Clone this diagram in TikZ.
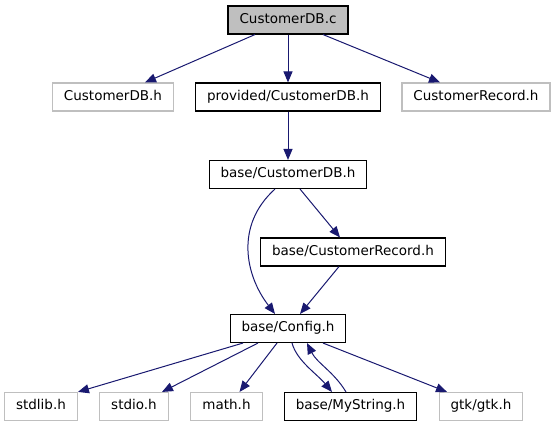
\documentclass[tikz,border=0pt]{standalone}
\usepackage{fontspec}
\setmainfont{DejaVu Sans}
\usetikzlibrary{arrows.meta}
\definecolor{edgeblue}{HTML}{191970}
\definecolor{extgray}{HTML}{BFBFBF}
\begin{document}
\begin{tikzpicture}[x=1pt,y=-1pt,
 box/.style={draw=black, line width=1.1pt, inner xsep=11.5pt, inner ysep=0pt, minimum height=28pt, font=\fontsize{13.5}{16}\selectfont, text height=10pt, text depth=3pt},
 ext/.style={box, draw=extgray},
 root/.style={box, fill=extgray},
 dep/.style={draw=edgeblue, line width=1pt, -{Triangle[length=11pt,width=9pt]}}
]
\useasboundingbox (0,0) rectangle (555,427);
\node[root] (c) at (288,20) {CustomerDB.c};
\node[ext] (cdbh) at (113,97) {CustomerDB.h};
\node[box] (pcdb) at (288,97) {provided/CustomerDB.h};
\node[ext] (crh) at (476,97) {CustomerRecord.h};
\node[box] (bcdb) at (288,174.5) {base/CustomerDB.h};
\node[box] (bcr) at (353,252) {base/CustomerRecord.h};
\node[box] (cfg) at (288,328.5) {base/Config.h};
\node[ext] (stdlib) at (41,406.5) {stdlib.h};
\node[ext] (stdio) at (134,406.5) {stdio.h};
\node[ext] (math) at (226.5,406.5) {math.h};
\node[box] (mys) at (350.5,406.5) {base/MyString.h};
\node[ext] (gtk) at (481,406.5) {gtk/gtk.h};
\draw[dep] ([xshift=-33pt]c.south) -- ([xshift=32pt]cdbh.north);
\draw[dep] (c) -- (pcdb);
\draw[dep] ([xshift=35pt]c.south) -- ([xshift=-36pt]crh.north);
\draw[dep] (pcdb) -- (bcdb);
\draw[dep] ([xshift=-13pt]bcdb.south) .. controls +(-40,36) and +(-30,-39) .. ([xshift=-13pt]cfg.north);
\draw[dep] ([xshift=12pt]bcdb.south) -- ([xshift=-13pt]bcr.north);
\draw[dep] ([xshift=-14pt]bcr.south) -- ([xshift=12pt]cfg.north);
\draw[dep] ([xshift=-45pt]cfg.south) -- (stdlib.north east);
\draw[dep] ([xshift=-30pt]cfg.south) -- ([xshift=28pt]stdio.north);
\draw[dep] ([xshift=-11pt]cfg.south) -- ([xshift=13pt]math.north);
\draw[dep] ([xshift=4pt]cfg.south) .. controls +(5,18) and +(-15,-18) .. ([xshift=-18.5pt]mys.north);
\draw[dep] ([xshift=-4.5pt]mys.north) .. controls +(-12,-20) and +(10,20) .. ([xshift=19pt]cfg.south);
\draw[dep] ([xshift=35pt]cfg.south) -- ([xshift=-34pt]gtk.north);
\end{tikzpicture}
\end{document}
